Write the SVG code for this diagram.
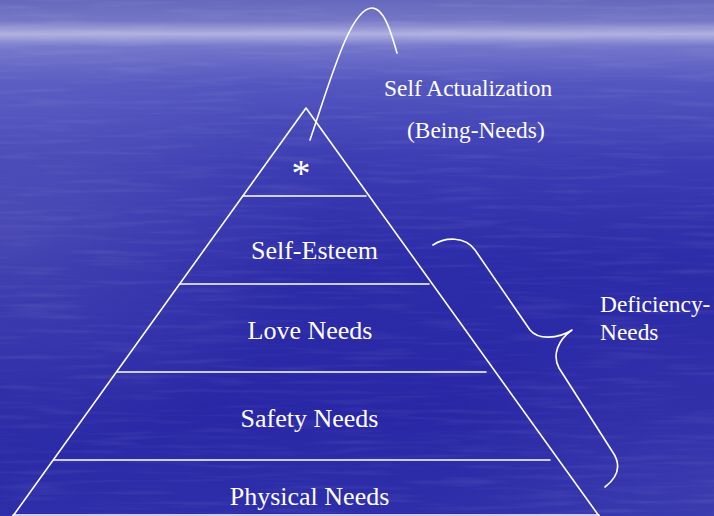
<svg xmlns="http://www.w3.org/2000/svg" width="714" height="516" viewBox="0 0 714 516">
  <defs>
    <linearGradient id="sea" x1="0" y1="0" x2="0" y2="1">
      <stop offset="0" stop-color="#6668bd"/>
      <stop offset="0.04" stop-color="#7476c6"/>
      <stop offset="0.066" stop-color="#b0b0e0"/>
      <stop offset="0.09" stop-color="#7476cb"/>
      <stop offset="0.16" stop-color="#5456c0"/>
      <stop offset="0.32" stop-color="#3b3bb2"/>
      <stop offset="0.52" stop-color="#2c2ba8"/>
      <stop offset="0.8" stop-color="#2927a5"/>
      <stop offset="1" stop-color="#2e2eaa"/>
    </linearGradient>
    <radialGradient id="glowLeft" cx="0" cy="0.45" r="0.45">
      <stop offset="0" stop-color="#ffffff" stop-opacity="0.12"/>
      <stop offset="1" stop-color="#ffffff" stop-opacity="0"/>
    </radialGradient>
    <radialGradient id="glowRight" cx="1" cy="0.95" r="0.4">
      <stop offset="0" stop-color="#ffffff" stop-opacity="0.07"/>
      <stop offset="1" stop-color="#ffffff" stop-opacity="0"/>
    </radialGradient>
    <filter id="ripples" x="0" y="0" width="100%" height="100%">
      <feTurbulence type="fractalNoise" baseFrequency="0.012 0.2" numOctaves="2" seed="7" result="n"/>
      <feColorMatrix in="n" type="matrix" values="0 0 0 0 1  0 0 0 0 1  0 0 0 0 1  0 0 0 0.5 -0.24"/>
    </filter>
  </defs>
  <style>
    .ln { fill: none; stroke: #ffffff; stroke-width: 1.6; stroke-linecap: round; stroke-linejoin: round; }
    .lbl { fill: #ffffff; font-family: "Liberation Serif", "Times New Roman", serif; }
    .tier { font-size: 26px; text-anchor: middle; }
    .side { font-size: 23.4px; }
  </style>

  <!-- sea background -->
  <rect width="714" height="516" fill="url(#sea)"/>
  <rect width="714" height="516" fill="url(#glowLeft)"/>
  <rect width="714" height="516" fill="url(#glowRight)"/>
  <rect width="714" height="516" filter="url(#ripples)" opacity="0.35"/>

  <!-- pyramid outline and tier dividers -->
  <g id="pyramid">
    <path class="ln" d="M13,516 L306,108 L599,516"/>
    <line class="ln" x1="243" y1="196" x2="366" y2="196"/>
    <line class="ln" x1="180" y1="284" x2="429" y2="284"/>
    <line class="ln" x1="117" y1="372" x2="486" y2="372"/>
    <line class="ln" x1="54" y1="460" x2="550" y2="460"/>
    <line class="ln" x1="13" y1="515" x2="599" y2="515"/>
  </g>

  <g id="tier-top">
    <text class="lbl" x="301" y="186" font-size="38" text-anchor="middle">*</text>
  </g>
  <g id="tier-esteem">
    <text class="lbl tier" x="314.5" y="259">Self-Esteem</text>
  </g>
  <g id="tier-love">
    <text class="lbl tier" x="310" y="339">Love Needs</text>
  </g>
  <g id="tier-safety">
    <text class="lbl tier" x="309.5" y="427">Safety Needs</text>
  </g>
  <g id="tier-physical">
    <text class="lbl tier" x="309.5" y="505">Physical Needs</text>
  </g>

  <g id="being-needs">
    <text class="lbl side" x="384" y="96">Self Actualization</text>
    <text class="lbl side" x="407" y="138">(Being-Needs)</text>
  </g>

  <g id="deficiency-needs">
    <text class="lbl side" x="600" y="312">Deficiency-</text>
    <text class="lbl side" x="600" y="340">Needs</text>
  </g>

  <!-- connectors: peak curve and brace -->
  <g id="connectors">
    <path class="ln" d="M310,140 C330,82 350,8 372,8 C384,8 391,32 397,53"/>
    <path class="ln" d="M433,245 C445,237 465,236 475,250 L530,330 C538,340 558,339 572,330 C558,340 552,355 559,368 L612,451 C622,465 618,477 605,487"/>
  </g>
</svg>
